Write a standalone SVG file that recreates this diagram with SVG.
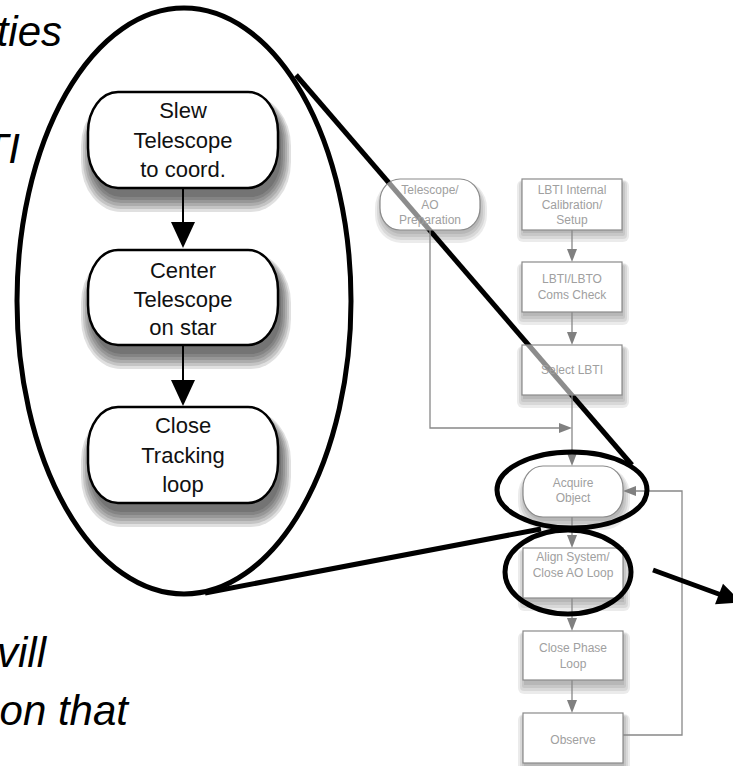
<svg xmlns="http://www.w3.org/2000/svg" width="733" height="766" viewBox="0 0 733 766">
  <defs>
    <style>
      .slide { font-family: "Liberation Sans", Arial, sans-serif; font-style: italic; font-size: 42px; fill: #000; text-anchor: end; }
      .bnode { fill: #fff; stroke: #000; stroke-width: 2.5; }
      .btxt { font-family: "Liberation Sans", Arial, sans-serif; font-size: 22px; fill: #111; text-anchor: middle; }
      .gbase { fill: #fff; stroke: none; }
      .gnode { fill: #fff; fill-opacity: 0.55; stroke: #8a8a8a; stroke-width: 1.2; }
      .gtxt { font-family: "Liberation Sans", Arial, sans-serif; font-size: 12px; fill: #a0a0a0; text-anchor: middle; }
      .gline { fill: none; stroke: #888; stroke-width: 1.3; }
      .ghead { fill: #808080; }
      .bline { fill: none; stroke: #000; stroke-width: 2; }
      .bhead { fill: #000; }
      .callout { fill: none; stroke: #000; stroke-width: 5; }
      .bshade rect { fill: #000; fill-opacity: 0.12; }
      .gshade rect { fill: #000; fill-opacity: 0.08; }
    </style>
    <!-- soft shadow built from stacked translucent layers, cast downward -->
    <g id="bshade" class="bshade">
      <rect x="3" y="9" width="190" height="96" rx="30" ry="40"/>
      <rect x="1" y="8" width="194" height="100" rx="32" ry="42"/>
      <rect x="-1" y="7" width="198" height="104" rx="34" ry="44"/>
      <rect x="-3" y="6" width="202" height="108" rx="36" ry="46"/>
      <rect x="-5" y="5" width="206" height="112" rx="38" ry="48"/>
      <rect x="-7" y="4" width="210" height="116" rx="40" ry="50"/>
    </g>
    <g id="gshade-rect" class="gshade">
      <rect x="1" y="4" width="100" height="50"/>
      <rect x="-1" y="3" width="104" height="54" rx="2"/>
      <rect x="-3" y="2" width="108" height="58" rx="4"/>
      <rect x="-5" y="1" width="112" height="62" rx="6"/>
    </g>
    <g id="gshade-round" class="gshade">
      <rect x="1" y="4" width="100" height="51" rx="20" ry="22"/>
      <rect x="-1" y="3" width="104" height="55" rx="22" ry="24"/>
      <rect x="-3" y="2" width="108" height="59" rx="24" ry="26"/>
      <rect x="-5" y="1" width="112" height="63" rx="26" ry="28"/>
    </g>
  </defs>

  <!-- fragments of the slide text at the left margin -->
  <g id="slide-text">
    <text class="slide" x="62" y="46">ties</text>
    <text class="slide" x="20" y="163">TI</text>
    <text class="slide" x="46" y="667">vill</text>
    <text class="slide" x="128" y="725">on that</text>
  </g>

  <!-- magnified view: enlarged outline -->
  <ellipse id="zoom-outline" class="callout" cx="184" cy="301" rx="167" ry="293"/>

  <!-- detail nodes -->
  <g id="slew">
    <use href="#bshade" x="88" y="92"/>
    <rect class="bnode" x="88" y="92" width="190" height="96" rx="30" ry="40"/>
    <text class="btxt" x="183" y="118">Slew</text>
    <text class="btxt" x="183" y="148">Telescope</text>
    <text class="btxt" x="183" y="177">to coord.</text>
  </g>
  <g id="center">
    <use href="#bshade" x="88" y="249"/>
    <rect class="bnode" x="88" y="250" width="190" height="95" rx="30" ry="40"/>
    <text class="btxt" x="183" y="278">Center</text>
    <text class="btxt" x="183" y="307">Telescope</text>
    <text class="btxt" x="183" y="335">on star</text>
  </g>
  <g id="tracking">
    <use href="#bshade" x="88" y="407"/>
    <rect class="bnode" x="88" y="407" width="190" height="96" rx="30" ry="40"/>
    <text class="btxt" x="183" y="433">Close</text>
    <text class="btxt" x="183" y="463">Tracking</text>
    <text class="btxt" x="183" y="492">loop</text>
  </g>

  <!-- detail connectors -->
  <g id="detail-connectors">
    <line class="bline" x1="183" y1="188" x2="183" y2="224"/>
    <polygon class="bhead" points="171,222 195,222 183,248"/>
    <line class="bline" x1="183" y1="345" x2="183" y2="382"/>
    <polygon class="bhead" points="171,380 195,380 183,406"/>
  </g>

  <!-- flowchart node shadows and opaque backdrops -->
  <g id="flow-shadows">
    <use href="#gshade-round" x="380" y="179"/>
    <use href="#gshade-rect" x="522" y="179"/>
    <use href="#gshade-rect" x="522" y="262"/>
    <use href="#gshade-rect" x="522" y="345"/>
    <use href="#gshade-round" x="523" y="466"/>
    <use href="#gshade-rect" x="523" y="548"/>
    <use href="#gshade-rect" x="523" y="631"/>
    <use href="#gshade-rect" x="523" y="713"/>
    <rect class="gbase" x="380" y="179" width="100" height="51" rx="20" ry="22"/>
    <rect class="gbase" x="522" y="179" width="100" height="51"/>
    <rect class="gbase" x="522" y="262" width="100" height="50"/>
    <rect class="gbase" x="522" y="345" width="100" height="50"/>
    <rect class="gbase" x="523" y="466" width="100" height="51" rx="20" ry="22"/>
    <rect class="gbase" x="523" y="548" width="100" height="50"/>
    <rect class="gbase" x="523" y="631" width="100" height="49"/>
    <rect class="gbase" x="523" y="713" width="100" height="50"/>
  </g>

  <!-- callout line from the outline to the acquire step (passes under the flowchart) -->
  <line id="callout-upper" class="callout" x1="296" y1="75" x2="632" y2="465"/>

  <!-- flowchart connectors -->
  <g id="flow-connectors">
    <line class="gline" x1="572" y1="230" x2="572" y2="250"/>
    <polygon class="ghead" points="567,249 577,249 572,262"/>
    <line class="gline" x1="572" y1="312" x2="572" y2="333"/>
    <polygon class="ghead" points="567,332 577,332 572,345"/>
    <line class="gline" x1="572" y1="395" x2="572" y2="454"/>
    <polygon class="ghead" points="567,453 577,453 572,466"/>
    <polyline class="gline" points="430,230 430,428 560,428"/>
    <polygon class="ghead" points="559,423 559,433 572,428"/>
    <line class="gline" x1="572" y1="517" x2="572" y2="536"/>
    <polygon class="ghead" points="567,535 577,535 572,548"/>
    <line class="gline" x1="572" y1="598" x2="572" y2="619"/>
    <polygon class="ghead" points="567,618 577,618 572,631"/>
    <line class="gline" x1="572" y1="680" x2="572" y2="701"/>
    <polygon class="ghead" points="567,700 577,700 572,713"/>
    <polyline class="gline" points="623,735 682,735 682,491 635,491"/>
    <polygon class="ghead" points="636,486 636,496 623,491"/>
  </g>

  <!-- flowchart nodes -->
  <g id="telescope-ao-prep">
    <rect class="gnode" x="380" y="179" width="100" height="51" rx="20" ry="22"/>
    <text class="gtxt" x="430" y="194">Telescope/</text>
    <text class="gtxt" x="430" y="209">AO</text>
    <text class="gtxt" x="430" y="224">Preparation</text>
  </g>
  <g id="lbti-calibration">
    <rect class="gnode" x="522" y="179" width="100" height="51"/>
    <text class="gtxt" x="572" y="194">LBTI Internal</text>
    <text class="gtxt" x="572" y="209">Calibration/</text>
    <text class="gtxt" x="572" y="224">Setup</text>
  </g>
  <g id="coms-check">
    <rect class="gnode" x="522" y="262" width="100" height="50"/>
    <text class="gtxt" x="572" y="283">LBTI/LBTO</text>
    <text class="gtxt" x="572" y="299">Coms Check</text>
  </g>
  <g id="select-lbti">
    <rect class="gnode" x="522" y="345" width="100" height="50"/>
    <text class="gtxt" x="572" y="374">Select LBTI</text>
  </g>
  <g id="acquire-object">
    <rect class="gnode" x="523" y="466" width="100" height="51" rx="20" ry="22"/>
    <text class="gtxt" x="573" y="487">Acquire</text>
    <text class="gtxt" x="573" y="502">Object</text>
  </g>
  <g id="align-system">
    <rect class="gnode" x="523" y="548" width="100" height="50"/>
    <text class="gtxt" x="573" y="561">Align System/</text>
    <text class="gtxt" x="573" y="577">Close AO Loop</text>
  </g>
  <g id="close-phase">
    <rect class="gnode" x="523" y="631" width="100" height="49"/>
    <text class="gtxt" x="573" y="652">Close Phase</text>
    <text class="gtxt" x="573" y="668">Loop</text>
  </g>
  <g id="observe">
    <rect class="gnode" x="523" y="713" width="100" height="50"/>
    <text class="gtxt" x="573" y="744">Observe</text>
  </g>

  <!-- highlight rings, lower callout line and pointer -->
  <g id="highlights">
    <ellipse class="callout" cx="572" cy="490" rx="75" ry="38"/>
    <ellipse class="callout" cx="568" cy="572" rx="63" ry="42"/>
    <line class="callout" x1="205" y1="593" x2="541" y2="529"/>
    <line class="callout" x1="653" y1="570" x2="720" y2="594.5"/>
    <polygon class="bhead" points="715,604.3 723,583.7 741.5,602.4"/>
  </g>
</svg>
